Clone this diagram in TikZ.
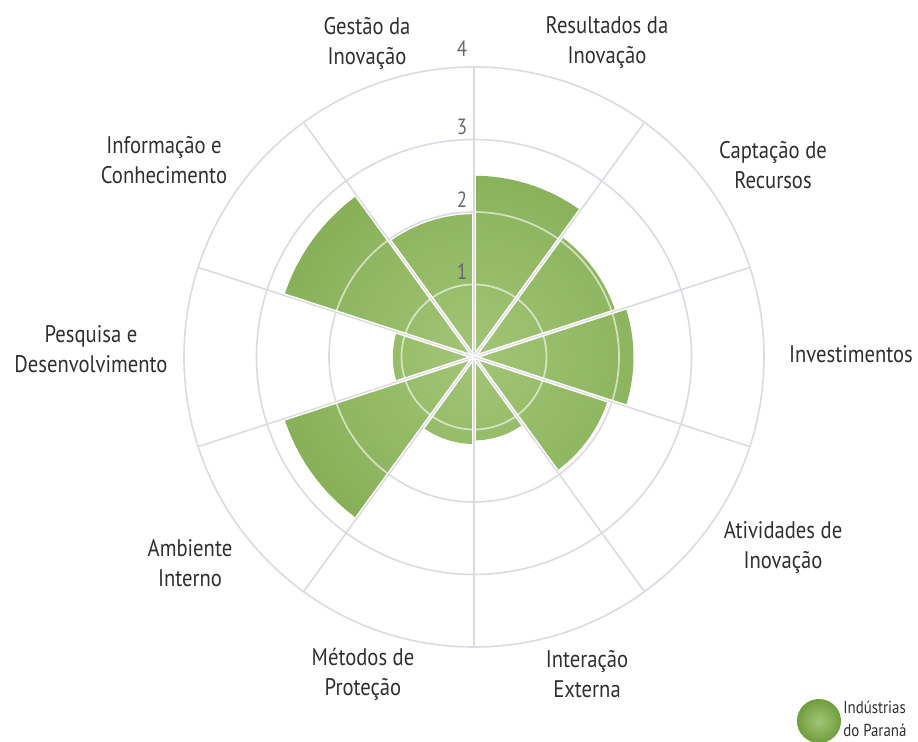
\documentclass[tikz,border=0pt]{standalone}
\usepackage{fontspec}
\setmainfont[FakeStretch=0.86]{PT Sans}
\definecolor{leafgreen}{HTML}{6F9D3C}
\definecolor{leaflight}{HTML}{A2C576}
\definecolor{gridgray}{HTML}{DADAE2}
\definecolor{labelgray}{HTML}{2F2F2F}
\definecolor{numgray}{HTML}{66666E}

\begin{document}
\begin{tikzpicture}[x=0.75pt,y=0.75pt]
\tikzstyle{every node}+=[inner sep=0pt]
\tikzstyle{axislabel}=[align=center,text=labelgray,font=\fontsize{18}{22.5}\selectfont]
\tikzstyle{ringnum}=[text=numgray,font=\fontsize{16.5}{18}\selectfont]
\tikzstyle{gridline}=[draw=gridgray,line width=1.2pt]
\useasboundingbox (-474,-385) rectangle (444,357);
\coordinate (c) at (0,0);
% grid rings and spokes
\foreach \k in {1,2,3,4}
  \draw [gridline] (c) circle (\k*72.5);
\foreach \a in {18,54,...,342}
  \draw [gridline] (c) -- (\a:290);
% sectors (start angle / score)
\begin{scope}
\clip foreach \a/\v in {54/2.5,90/1.97,126/2.75,162/1.12,198/2.75,234/1.2,270/1.15,306/1.94,342/2.2,18/2.05}
  {(c) -- (\a:\v*72.5) arc [start angle=\a, end angle=\a+36, radius=\v*72.5] -- cycle};
\shade [inner color=leaflight, outer color=leafgreen] (c) circle (380);
\foreach \k in {1,2,3}
  \draw [white, opacity=0.6, line width=1.3pt] (c) circle (\k*72.5);
\foreach \a in {18,54,...,342} {
  \draw [white, line width=3pt] (c) -- (\a:290);
  \draw [gridgray, line width=0.8pt] (c) -- (\a:290);
}
\end{scope}
% ring values
\node [ringnum] (n1) at (-12,85) {1};
\node [ringnum] (n2) at (-12,157) {2};
\node [ringnum] (n3) at (-12,230) {3};
\node [ringnum] (n4) at (-12,308) {4};
% axis labels
\node [axislabel] (gestao) at (-107,314) {Gestão da\\Inovação};
\node [axislabel] (resultados) at (133,314) {Resultados da\\Inovação};
\node [axislabel] (captacao) at (299,192) {Captação de\\Recursos};
\node [axislabel] (investimentos) at (377,3) {Investimentos};
\node [axislabel] (atividades) at (309,-190) {Atividades de\\Inovação};
\node [axislabel] (interacao) at (113,-317) {Interação\\Externa};
\node [axislabel] (metodos) at (-111,-317) {Métodos de\\Proteção};
\node [axislabel] (ambiente) at (-284,-206) {Ambiente\\Interno};
\node [axislabel] (pesquisa) at (-383,8) {Pesquisa e\\Desenvolvimento};
\node [axislabel] (informacao) at (-310,197) {Informação e\\Conhecimento};
% legend
\shade [inner color=leaflight, outer color=leafgreen] (345,-364) circle (22);
\node [anchor=west, align=left, text=labelgray, font=\fontsize{13}{17}\selectfont] (legenda) at (369,-362) {Indústrias\\do Paraná};
\end{tikzpicture}
\end{document}
